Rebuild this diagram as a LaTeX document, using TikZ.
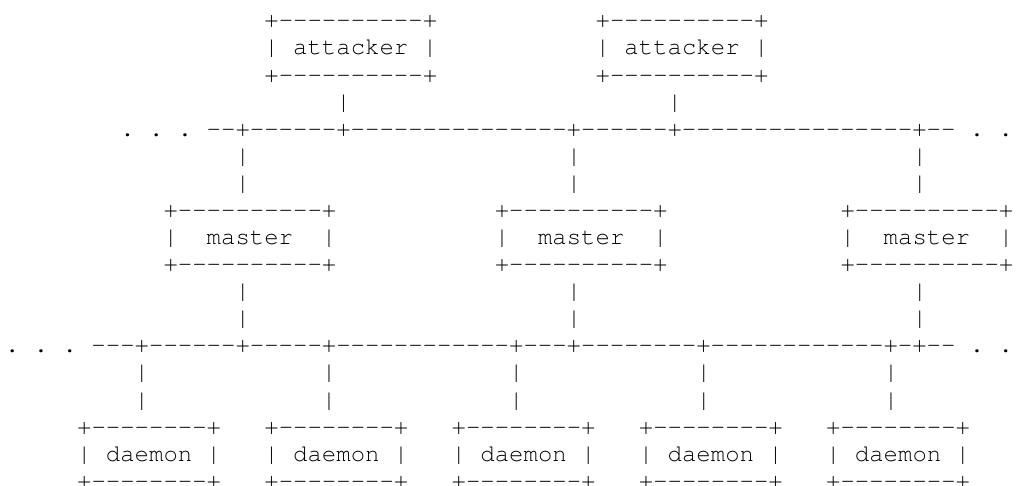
\documentclass[tikz,border=0pt]{standalone}
\usepackage{fontspec}
\newfontfamily\cursorfont{TeX Gyre Cursor}
\ExplSyntaxOn
\cs_new:Npn \dashrun #1 { \prg_replicate:nn {#1} {-} }
\ExplSyntaxOff
\tikzset{asc/.style={anchor=base west, inner sep=0pt, outer sep=0pt,
  font=\cursorfont\fontsize{24}{24}\selectfont\frenchspacing, text=black}}
% #1 name, #2 row, #3 column, #4 text
\newcommand\seg[4]{\node[asc] (#1) at ({5.1+14.404*#3},{-(27.9+27.08*#2)}) {#4};}
\newcommand\bigtop{+\dashrun{10}+}
\newcommand\smalltop{+\dashrun{8}+}
\begin{document}
\begin{tikzpicture}[x=1pt,y=1pt]
\fill[white] (0,0) rectangle (1027,-485);
\useasboundingbox (0,0) rectangle (1027,-485);
% attackers
\foreach \c/\n in {18/A,41/B}{
  \seg{att\n t}{0}{\c}{\bigtop}
  \seg{att\n m}{1}{\c}{|\ attacker\ |}
  \seg{att\n b}{2}{\c}{\bigtop}
}
\seg{vA1}{3}{23}{|}
\seg{vB1}{3}{46}{|}
% upper bus
\seg{busA}{4}{8}{.\ .\ .\ \dashrun{2}+\dashrun{6}+\dashrun{15}+\dashrun{6}+\dashrun{16}+\dashrun{2}\ .\ .}
\foreach \c/\n in {16/1,39/2,63/3}{
  \seg{mu\n a}{5}{\c}{|}
  \seg{mu\n b}{6}{\c}{|}
}
% masters
\foreach \c/\n in {11/1,34/2,58/3}{
  \seg{m\n t}{7}{\c}{\bigtop}
  \seg{m\n m}{8}{\c}{|\ \ master\ \ |}
  \seg{m\n b}{9}{\c}{\bigtop}
}
\foreach \c/\n in {16/1,39/2,63/3}{
  \seg{md\n a}{10}{\c}{|}
  \seg{md\n b}{11}{\c}{|}
}
% lower bus
\seg{busB}{12}{0}{.\ .\ .\ \dashrun{3}+\dashrun{6}+\dashrun{5}+\dashrun{12}+\dashrun{3}+\dashrun{8}+\dashrun{12}+\dashrun{1}+\dashrun{2}\ .\ .}
\foreach \c/\n in {9/1,22/2,35/3,48/4,61/5}{
  \seg{dv\n a}{13}{\c}{|}
  \seg{dv\n b}{14}{\c}{|}
}
% daemons
\foreach \c/\n in {5/1,18/2,31/3,44/4,57/5}{
  \seg{d\n t}{15}{\c}{\smalltop}
  \seg{d\n m}{16}{\c}{|\ daemon\ |}
  \seg{d\n b}{17}{\c}{\smalltop}
}
\end{tikzpicture}
\end{document}
